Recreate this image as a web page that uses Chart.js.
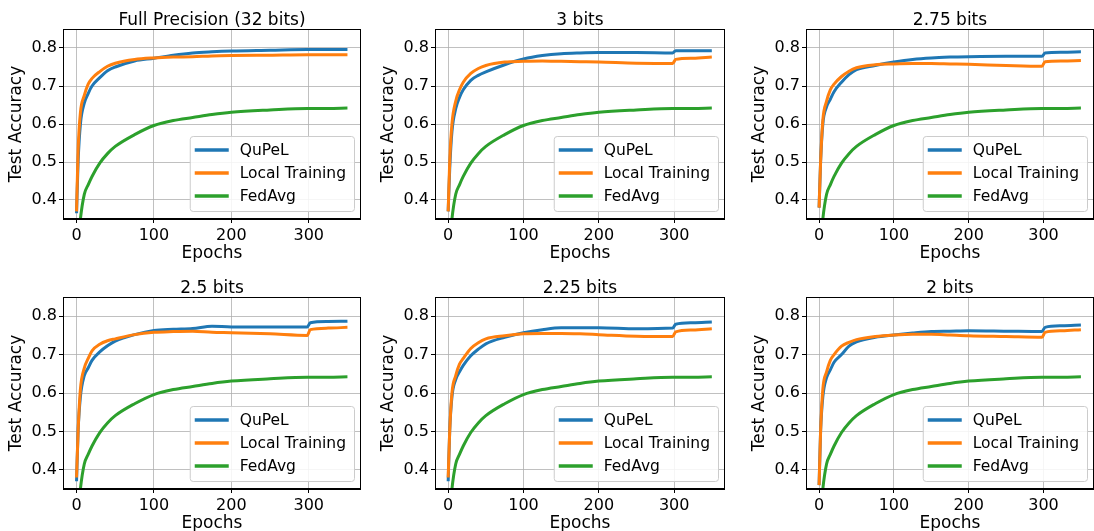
<!DOCTYPE html>
<html lang="en">
<head>
<meta charset="UTF-8">
<title>Test Accuracy vs Epochs</title>
<script src="https://cdn.jsdelivr.net/npm/chart.js@4"></script>
<style>
  html, body { margin: 0; padding: 0; background: #fff; overflow: hidden; }
  #wrap { position: relative; width: 1094px; height: 531px; }
  canvas { position: absolute; }
</style>
</head>
<body>
<div id="wrap"></div>
<script>
const epochs = [0, 2, 5, 10, 15, 20, 30, 40, 50, 75, 100, 125, 150, 175, 200, 250, 298, 302, 325, 350];
const xTicks = [0, 100, 200, 300];
const yTicks = [0.4, 0.5, 0.6, 0.7, 0.8];
const titles = ['Full Precision (32 bits)', '3 bits', '2.75 bits', '2.5 bits', '2.25 bits', '2 bits'];
const seriesNames = ['QuPeL', 'Local Training', 'FedAvg'];

const qupelFull = [0.365, 0.50, 0.60, 0.655, 0.68, 0.70, 0.722, 0.74, 0.75, 0.766, 0.773, 0.781, 0.787, 0.79, 0.792, 0.794, 0.796, 0.796, 0.796, 0.796];
const qupel3    = [0.37, 0.48, 0.58, 0.64, 0.67, 0.69, 0.715, 0.728, 0.737, 0.756, 0.771, 0.780, 0.785, 0.787, 0.788, 0.788, 0.787, 0.793, 0.793, 0.793];
const qupel275  = [0.38, 0.50, 0.60, 0.645, 0.665, 0.685, 0.71, 0.73, 0.743, 0.754, 0.763, 0.77, 0.774, 0.776, 0.777, 0.778, 0.778, 0.787, 0.789, 0.790];
const qupel25   = [0.37, 0.50, 0.59, 0.645, 0.665, 0.685, 0.707, 0.723, 0.735, 0.752, 0.763, 0.766, 0.768, 0.774, 0.772, 0.772, 0.772, 0.783, 0.786, 0.787];
const qupel225  = [0.37, 0.50, 0.59, 0.635, 0.655, 0.672, 0.697, 0.714, 0.728, 0.745, 0.757, 0.765, 0.770, 0.770, 0.770, 0.767, 0.769, 0.779, 0.783, 0.785];
const qupel2    = [0.36, 0.50, 0.59, 0.64, 0.66, 0.68, 0.70, 0.722, 0.733, 0.745, 0.751, 0.756, 0.76, 0.761, 0.762, 0.761, 0.76, 0.771, 0.775, 0.777];

const localFull = [0.37, 0.53, 0.63, 0.675, 0.705, 0.72, 0.738, 0.752, 0.76, 0.77, 0.774, 0.776, 0.777, 0.779, 0.78, 0.781, 0.782, 0.782, 0.782, 0.782];
const local3    = [0.37, 0.50, 0.60, 0.66, 0.69, 0.71, 0.733, 0.746, 0.754, 0.763, 0.765, 0.766, 0.765, 0.764, 0.763, 0.760, 0.759, 0.770, 0.773, 0.776];
const local275  = [0.38, 0.50, 0.61, 0.66, 0.69, 0.705, 0.725, 0.739, 0.748, 0.756, 0.758, 0.759, 0.759, 0.758, 0.757, 0.754, 0.752, 0.764, 0.766, 0.767];
const local25   = [0.38, 0.50, 0.61, 0.665, 0.69, 0.71, 0.727, 0.736, 0.741, 0.752, 0.758, 0.76, 0.761, 0.758, 0.757, 0.754, 0.750, 0.765, 0.769, 0.771];
const local225  = [0.38, 0.50, 0.60, 0.645, 0.675, 0.69, 0.716, 0.731, 0.741, 0.749, 0.754, 0.755, 0.755, 0.754, 0.752, 0.748, 0.747, 0.759, 0.764, 0.767];
const local2    = [0.36, 0.50, 0.61, 0.655, 0.685, 0.70, 0.722, 0.732, 0.739, 0.747, 0.751, 0.753, 0.753, 0.751, 0.749, 0.747, 0.745, 0.758, 0.762, 0.765];

// FedAvg is the same full-precision baseline in every panel
const fedAvg    = [0.22, 0.28, 0.35, 0.415, 0.44, 0.462, 0.497, 0.522, 0.541, 0.572, 0.596, 0.609, 0.617, 0.625, 0.631, 0.637, 0.641, 0.641, 0.641, 0.642];

const qupel = [qupelFull, qupel3, qupel275, qupel25, qupel225, qupel2];
const local = [localFull, local3, local275, local25, local225, local2];

const colors = ['#1f77b4', '#ff7f0e', '#2ca02c'];
const FONT = 'DejaVu Sans';

// plot-area placement of the 2x3 grid
const colLeft = [63, 435, 806], colRight = [358, 722, 1091];
const rowTop = [29, 297], rowBottom = [219, 489];
const yAxisW = 63, xAxisH = 45, titleH = 22;

// title centred on the plot area (Chart.js centres on the canvas)
const areaTitle = {
  id: 'areaTitle',
  afterDraw(chart, args, opts) {
    const a = chart.chartArea, c = chart.ctx;
    c.save();
    c.font = '17px "' + FONT + '"';
    c.fillStyle = '#000';
    c.textAlign = 'center';
    c.textBaseline = 'alphabetic';
    c.fillText(opts.text, (a.left + a.right) / 2, a.top - 4);
    c.restore();
  }
};

const framePlugin = {
  id: 'frame',
  afterDraw(chart) {
    const a = chart.chartArea, c = chart.ctx;
    c.save();
    c.strokeStyle = '#000';
    c.lineWidth = 1;
    c.strokeRect(Math.round(a.left) + 0.5, Math.round(a.top) + 0.5, Math.round(a.right - a.left) - 1, Math.round(a.bottom - a.top) - 1);
    c.restore();
  }
};

const boxLegend = {
  id: 'boxLegend',
  afterDatasetsDraw(chart) {
    const a = chart.chartArea, c = chart.ctx;
    c.save();
    c.font = '15.5px "' + FONT + '"';
    const sets = chart.data.datasets;
    let tw = 0;
    sets.forEach(d => { tw = Math.max(tw, c.measureText(d.label).width); });
    const w = 5 + 34 + 11 + tw + 8, h = 75;
    const x = a.right - 7 - w, y = a.bottom - 8 - h;
    c.beginPath();
    c.roundRect(x + 0.5, y + 0.5, w, h, 3);
    c.fillStyle = 'rgba(255,255,255,0.85)';
    c.fill();
    c.strokeStyle = '#cccccc';
    c.lineWidth = 1;
    c.stroke();
    sets.forEach((d, i) => {
      const cy = y + 14 + i * 23;
      c.strokeStyle = d.borderColor;
      c.lineWidth = 3.5;
      c.beginPath();
      c.moveTo(x + 5, cy);
      c.lineTo(x + 39, cy);
      c.stroke();
      c.fillStyle = '#000';
      c.textBaseline = 'middle';
      c.fillText(d.label, x + 50, cy + 1);
    });
    c.restore();
  }
};

const wrap = document.getElementById('wrap');
titles.forEach((title, p) => {
  const r = Math.floor(p / 3), col = p % 3;
  const left = colLeft[col] - yAxisW;
  const top = rowTop[r] - titleH;
  const w = colRight[col] + 3 - left;
  const h = titleH + (rowBottom[r] - rowTop[r]) + xAxisH;
  const cv = document.createElement('canvas');
  cv.width = w; cv.height = h;
  cv.style.left = left + 'px'; cv.style.top = top + 'px';
  cv.style.width = w + 'px'; cv.style.height = h + 'px';
  wrap.appendChild(cv);

  const series = [qupel[p], local[p], fedAvg];
  new Chart(cv, {
    type: 'line',
    data: {
      datasets: series.map((vals, i) => ({
        label: seriesNames[i],
        data: epochs.map((e, k) => ({ x: e, y: vals[k] })),
        borderColor: colors[i],
        borderWidth: 3,
        pointRadius: 0,
        cubicInterpolationMode: 'monotone',
        fill: false,
        order: [1, 0, 2][i]
      }))
    },
    options: {
      responsive: false,
      animation: false,
      devicePixelRatio: 1,
      layout: { padding: { top: titleH, left: 0, right: 0, bottom: 0 } },
      plugins: {
        legend: { display: false },
        tooltip: { enabled: false },
        title: { display: false },
        areaTitle: { text: title }
      },
      scales: {
        x: {
          type: 'linear', min: -17.5, max: 367.5,
          afterBuildTicks: s => { s.ticks = xTicks.map(v => ({ value: v })); },
          afterFit: s => { s.height = xAxisH; },
          grid: { color: '#b0b0b0', lineWidth: 0.8, tickColor: '#000', tickLength: 4, tickWidth: 1 },
          border: { color: '#000', width: 1 },
          ticks: { color: '#000', font: { family: FONT, size: 16 }, padding: 3, maxRotation: 0 },
          title: { display: true, text: 'Epochs', color: '#000', font: { family: FONT, size: 17, lineHeight: '20px' }, padding: { top: 0, bottom: 0 } }
        },
        y: {
          type: 'linear', min: 0.35, max: 0.85,
          afterBuildTicks: s => { s.ticks = yTicks.map(v => ({ value: v })); },
          afterFit: s => { s.width = yAxisW; },
          grid: { color: '#b0b0b0', lineWidth: 0.8, tickColor: '#000', tickLength: 4, tickWidth: 1 },
          border: { color: '#000', width: 1 },
          ticks: { color: '#000', font: { family: FONT, size: 16 }, padding: 2, callback: v => v.toFixed(1) },
          title: { display: true, text: 'Test Accuracy', color: '#000', font: { family: FONT, size: 17, lineHeight: '20px' }, padding: { top: 7, bottom: 0 } }
        }
      }
    },
    plugins: [boxLegend, framePlugin, areaTitle]
  });
});
</script>
</body>
</html>
